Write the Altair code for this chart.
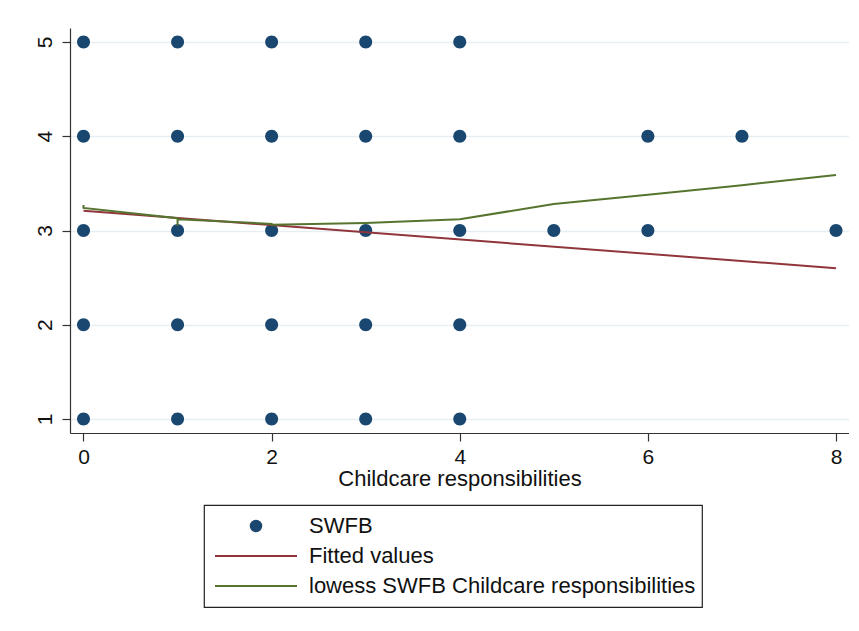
import altair as alt
import pandas as pd

# ---- data ----
series_names = ["SWFB", "Fitted values", "lowess SWFB Childcare responsibilities"]
series_colors = ["#1a476f", "#90353b", "#55752f"]

swfb_x = [0, 1, 2, 3, 4,
          0, 1, 2, 3, 4, 6, 7,
          0, 1, 2, 3, 4, 5, 6, 8,
          0, 1, 2, 3, 4,
          0, 1, 2, 3, 4]
swfb_y = [5, 5, 5, 5, 5,
          4, 4, 4, 4, 4, 4, 4,
          3, 3, 3, 3, 3, 3, 3, 3,
          2, 2, 2, 2, 2,
          1, 1, 1, 1, 1]

fitted_x = [0, 8]
fitted_y = [3.21, 2.60]

lowess_x = [0, 0, 1, 1, 1, 2, 2, 3, 4, 5, 6, 7, 8]
lowess_y = [3.27, 3.24, 3.13, 3.05, 3.12, 3.07, 3.06, 3.08, 3.12, 3.28, 3.38, 3.48, 3.59]

x_ticks = [0, 2, 4, 6, 8]
y_ticks = [1, 2, 3, 4, 5]

# ---- tables ----
pts = pd.DataFrame({"x": swfb_x, "y": swfb_y, "series": series_names[0]})
lines = pd.concat([
    pd.DataFrame({"x": fitted_x, "y": fitted_y, "series": series_names[1],
                  "order": list(range(len(fitted_x)))}),
    pd.DataFrame({"x": lowess_x, "y": lowess_y, "series": series_names[2],
                  "order": list(range(len(lowess_x)))}),
])

# small disc (bezier circle) inside the unit square, so that the legend can
# show a long line sample and a small dot with the same symbol size
r = 0.128
k = 0.5523 * r
circle_path = (f"M{r},0C{r},{k},{k},{r},0,{r}C{-k},{r},{-r},{k},{-r},0"
               f"C{-r},{-k},{-k},{-r},0,{-r}C{k},{-r},{r},{-k},{r},0Z")
line_path = "M-1,0L1,0"

xscale = alt.Scale(domain=[-0.1435, 8.138], nice=False, zero=False)
yscale = alt.Scale(domain=[0.8515, 5.1485], nice=False, zero=False)
cscale = alt.Scale(domain=series_names, range=series_colors)
sscale = alt.Scale(domain=series_names, range=[circle_path, line_path, line_path])

xaxis = alt.Axis(values=x_ticks, title="Childcare responsibilities", grid=False,
                 labelFontSize=21, titleFontSize=22, titleFontWeight="normal",
                 tickSize=8, labelPadding=5, titlePadding=1, format="d")
yaxis = alt.Axis(values=y_ticks, title=None, grid=True, labelAngle=270,
                 labelAlign="center", labelBaseline="middle",
                 labelFontSize=21, tickSize=8, labelPadding=17, format="d")

points = alt.Chart(pts).mark_point(filled=True, size=10320, opacity=1, strokeWidth=0).encode(
    x=alt.X("x:Q", scale=xscale, axis=xaxis),
    y=alt.Y("y:Q", scale=yscale, axis=yaxis),
    color=alt.Color("series:N", scale=cscale, legend=alt.Legend(title=None)),
    shape=alt.Shape("series:N", scale=sscale, legend=alt.Legend(title=None)),
)

lns = alt.Chart(lines).mark_line(strokeWidth=2).encode(
    x=alt.X("x:Q", scale=xscale),
    y=alt.Y("y:Q", scale=yscale),
    color=alt.Color("series:N", scale=cscale, legend=alt.Legend(title=None)),
    order="order:Q",
    detail="series:N",
)

chart = alt.layer(points, lns).properties(
    width=779, height=405,
    autosize=alt.AutoSizeParams(type="none"),
    padding={"left": 62, "top": 20, "right": 0, "bottom": 182},
).configure(
    font="Liberation Sans",
).configure_view(
    stroke=None,
).configure_axis(
    domainColor="#333333", domainWidth=1.2, tickColor="#333333", tickWidth=1.2,
    labelColor="#111111", titleColor="#111111", labelFont="Liberation Sans",
    titleFont="Liberation Sans", gridColor="#e6eef1", gridWidth=1.5,
).configure_legend(
    orient="none", legendX=134, legendY=477,
    strokeColor="#222222", fillColor="white", strokeWidth=1.2,
    padding=6, symbolSize=6724, symbolStrokeWidth=2, symbolOffset=4,
    clipHeight=30, rowPadding=0, labelOffset=11,
    labelFontSize=22, labelFont="Liberation Sans", labelColor="#111111",
    labelLimit=0,
)

chart.save("out.html", embed_options={"renderer": "svg", "actions": False})
